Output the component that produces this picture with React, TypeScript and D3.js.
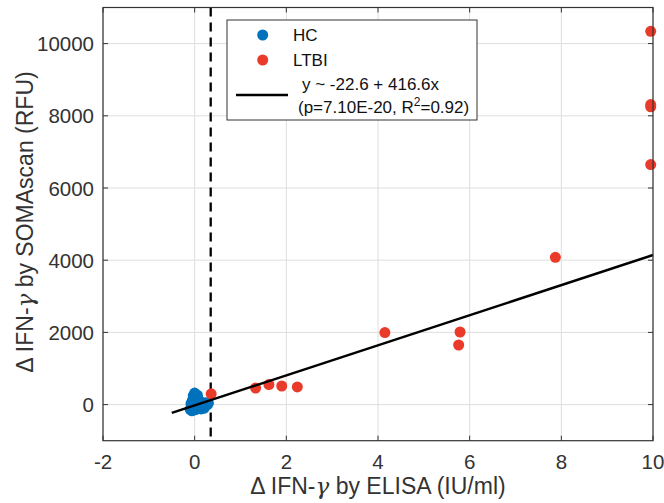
import React from "react";
import * as d3 from "d3";

const xTicks = [-2, 0, 2, 4, 6, 8, 10];
const yTicks = [0, 2000, 4000, 6000, 8000, 10000];

const hcX = [-0.1, -0.07, -0.05, -0.03, 0.0, 0.02, 0.05, 0.08, 0.1, 0.12, 0.15, 0.18, 0.2, 0.22, 0.25, 0.28, 0.3, -0.06, -0.02, 0.01, 0.04, 0.06, 0.09, 0.13, 0.17, 0.21, 0.24, -0.04, 0.0, 0.03, 0.07, 0.11, -0.08, 0.02, 0.14];
const hcY = [-130, -60, 120, 250, 320, 200, 150, 120, 80, 60, 40, 30, 10, -20, 20, 0, 40, -170, -100, 100, 180, 260, 50, -30, -60, -100, 50, 0, -50, 40, -10, 100, 30, -140, -120];

const ltbiX = [0.36, 1.33, 1.62, 1.9, 2.24, 4.15, 5.76, 5.79, 7.87, 9.95, 9.95, 9.95, 9.95];
const ltbiY = [300, 460, 554, 515, 488, 1994, 1651, 2011, 4080, 6650, 8250, 8310, 10340];

const fitIntercept = -22.6;
const fitSlope = 416.6;
const fitRange = [-0.5, 10];
const cutoff = 0.35;

const W = 664, H = 503;
const L = 103, R = 653, T = 7.5, B = 440.7;

export default function App() {
  const x = d3.scaleLinear().domain([-2, 10]).range([L, R]);
  const y = d3.scaleLinear().domain([-1000, 11000]).range([B, T]);
  const font = "'Liberation Sans', Arial, sans-serif";
  const blue = "#0072BD";
  const red = "#EA3A2A";
  const textCol = "#333";
  const line = d3.line<number>().x((d) => x(d)).y((d) => y(fitIntercept + fitSlope * d));

  return (
    <svg width={W} height={H} style={{ position: "absolute", left: 0, top: 0 }} fontFamily={font}>
      <rect x={0} y={0} width={W} height={H} fill="#fff" />
      {xTicks.map((t) => (
        <line key={"gx" + t} x1={x(t)} x2={x(t)} y1={T} y2={B} stroke="#dedede" strokeWidth={1} />
      ))}
      {yTicks.map((t) => (
        <line key={"gy" + t} x1={L} x2={R} y1={y(t)} y2={y(t)} stroke="#dedede" strokeWidth={1} />
      ))}
      {xTicks.map((t) => (
        <g key={"tx" + t}>
          <line x1={x(t)} x2={x(t)} y1={B} y2={B - 5} stroke="#333" />
          <line x1={x(t)} x2={x(t)} y1={T} y2={T + 5} stroke="#333" />
          <text x={x(t)} y={469} textAnchor="middle" fontSize={20.5} fill={textCol}>{t}</text>
        </g>
      ))}
      {yTicks.map((t) => (
        <g key={"ty" + t}>
          <line x1={L} x2={L + 5} y1={y(t)} y2={y(t)} stroke="#333" />
          <line x1={R} x2={R - 5} y1={y(t)} y2={y(t)} stroke="#333" />
          <text x={94} y={y(t) + 7.5} textAnchor="end" fontSize={20.5} fill={textCol}>{t}</text>
        </g>
      ))}
      <line x1={x(cutoff)} x2={x(cutoff)} y1={T} y2={B} stroke="#000" strokeWidth={2.3} strokeDasharray="9,6" />
      {hcX.map((v, i) => (
        <circle key={"hc" + i} cx={x(v)} cy={y(hcY[i])} r={5.5} fill={blue} />
      ))}
      {ltbiX.map((v, i) => (
        <circle key={"lt" + i} cx={x(v)} cy={y(ltbiY[i])} r={5.5} fill={red} />
      ))}
      <path d={line(fitRange) || ""} stroke="#000" strokeWidth={2.5} fill="none" />
      <rect x={L} y={T} width={R - L} height={B - T} fill="none" stroke="#333" strokeWidth={1.2} />
      <rect x={227} y={20} width={250} height={100} fill="#fff" stroke="#333" strokeWidth={1} />
      <circle cx={262.7} cy={35} r={5.5} fill={blue} />
      <text x={293} y={41} fontSize={17} fill="#111">HC</text>
      <circle cx={262.7} cy={60} r={5.5} fill={red} />
      <text x={293} y={66} fontSize={17} fill="#111">LTBI</text>
      <line x1={236} x2={288} y1={95} y2={95} stroke="#000" strokeWidth={2.5} />
      <text x={302} y={90} fontSize={17} fill="#111">y ~ -22.6 + 416.6x</text>
      <text x={298} y={113} fontSize={17} fill="#111">
        (p=7.10E-20, R<tspan dy={-7} fontSize={12}>2</tspan><tspan dy={7}>=0.92)</tspan>
      </text>
      <text x={378} y={494} textAnchor="middle" fontSize={23} fill={textCol}>
        Δ IFN-<tspan fontStyle="italic" fontFamily="'DejaVu Serif', serif">γ</tspan> by ELISA (IU/ml)
      </text>
      <text transform={`translate(33,${222}) rotate(-90)`} textAnchor="middle" fontSize={23} fill={textCol}>
        Δ IFN-<tspan fontStyle="italic" fontFamily="'DejaVu Serif', serif">γ</tspan> by SOMAscan (RFU)
      </text>
    </svg>
  );
}
